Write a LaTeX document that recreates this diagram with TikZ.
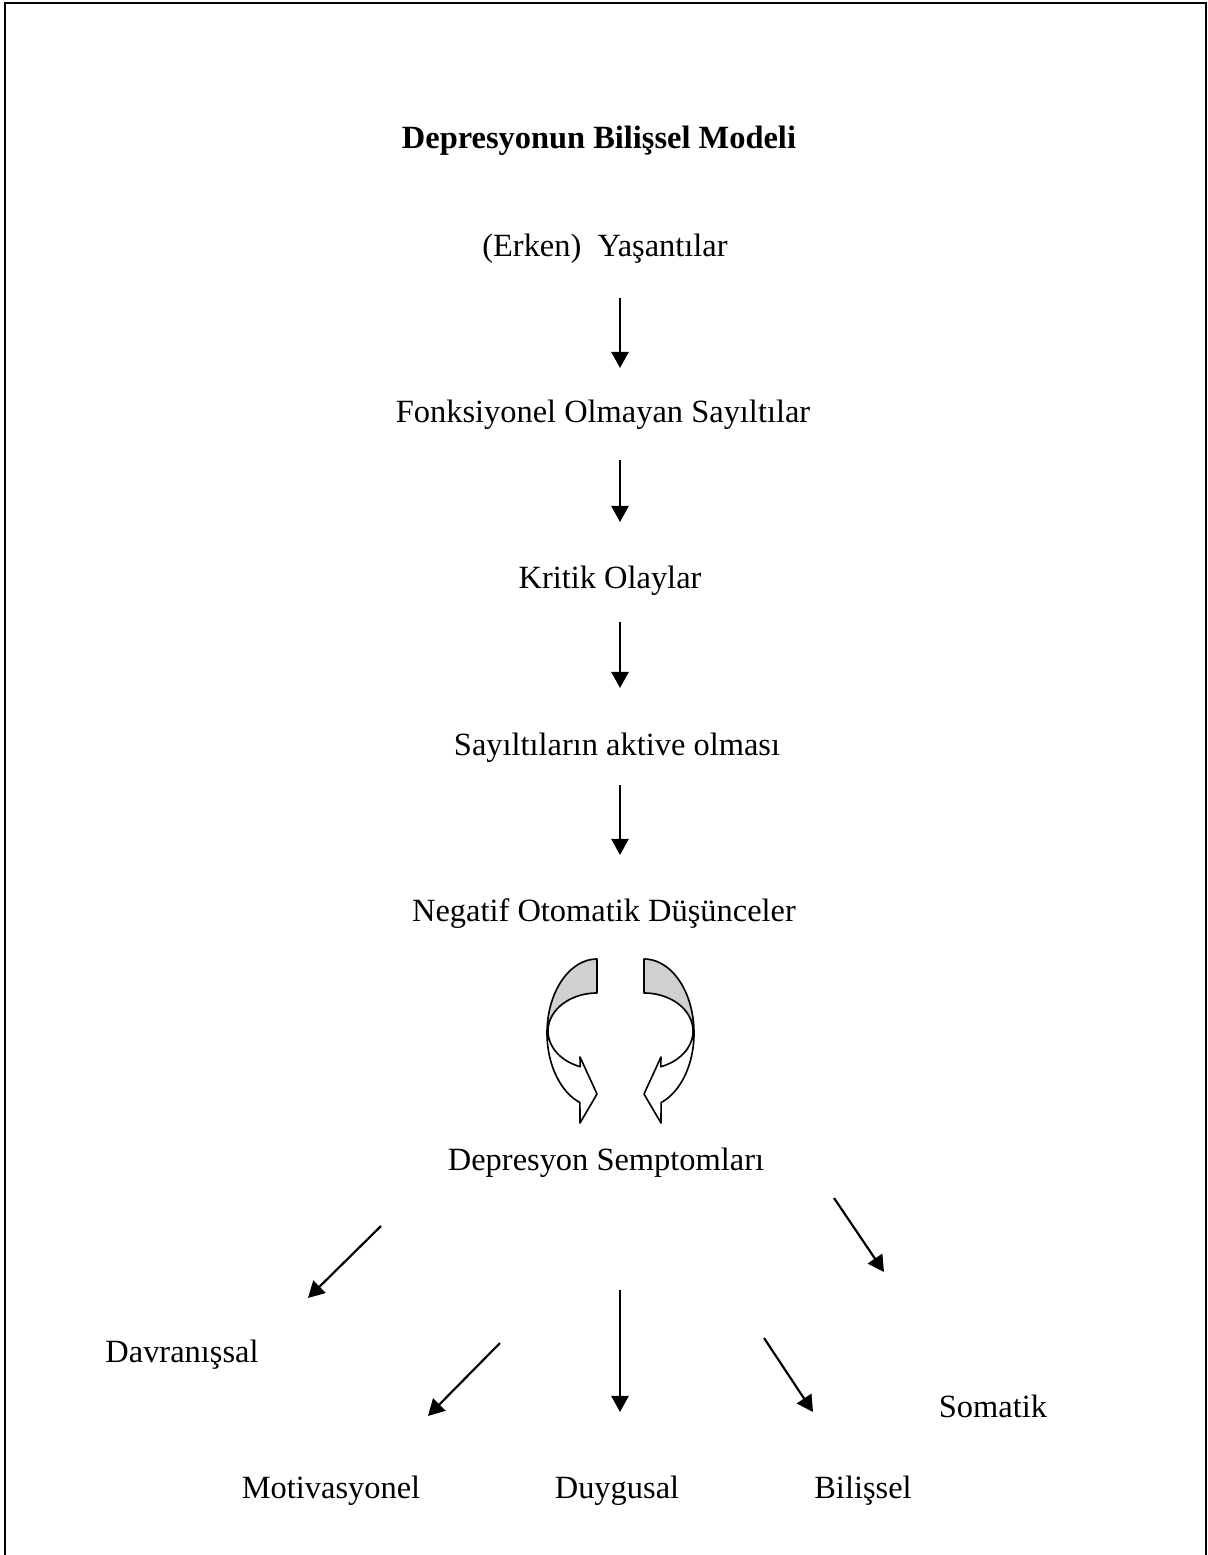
\documentclass[tikz,border=0pt]{standalone}
\usepackage{fontspec}
\setmainfont{Liberation Serif}
\usepackage{xcolor}
\usepackage{tikz}
\usetikzlibrary{positioning,arrows.meta,calc}
\definecolor{ink}{HTML}{000000}
\definecolor{shade}{HTML}{D0D0D0}
\tikzset{
  every node/.style={font=\fontsize{12}{14}\selectfont},
  etiket/.style={
    inner sep=0pt, anchor=base,
    text height=8pt, text depth=2.5pt
  },
  ok/.style={
    -{Triangle[length=6pt,width=6.4pt]},
    line width=0.8pt, draw=ink
  },
  kivrim/.style={
    line width=0.6pt, draw=ink, line join=round
  },
  cerceve/.style={
    line width=0.8pt, draw=ink
  },
}

\begin{document}
\begin{tikzpicture}[x=0.37pt,y=-0.37pt]
  \useasboundingbox (0,0) rectangle (1208,1555);
  \draw[cerceve] (5,1556) -- (5,3) -- (1206,3) -- (1206,1556);

  \node[etiket, font=\fontsize{12}{14}\selectfont\bfseries] (baslik) at (599,149) {Depresyonun Bilişsel Modeli};
  \node[etiket] (yasanti) at (605,257) {(Erken)\ \ Yaşantılar};
  \node[etiket] (sayilti) at (603,422) {Fonksiyonel Olmayan Sayıltılar};
  \node[etiket] (kritik) at (610,588) {Kritik Olaylar};
  \node[etiket] (aktive) at (617,755) {Sayıltıların aktive olması};
  \node[etiket] (negatif) at (604,921) {Negatif Otomatik Düşünceler};
  \node[etiket] (semptom) at (606,1170) {Depresyon Semptomları};
  \node[etiket] (davranis) at (182,1362) {Davranışsal};
  \node[etiket] (somatik) at (993,1417) {Somatik};
  \node[etiket] (motiv) at (331,1498) {Motivasyonel};
  \node[etiket] (duygu) at (617,1498) {Duygusal};
  \node[etiket] (bilis) at (863,1498) {Bilişsel};

  \draw[ok] ([shift={(15,41)}]yasanti.base) -- ([shift={(17,-54)}]sayilti.base);
  \draw[ok] ([shift={(17,38)}]sayilti.base) -- ([shift={(10,-66)}]kritik.base);
  \draw[ok] ([shift={(10,34)}]kritik.base) -- ([shift={(3,-67)}]aktive.base);
  \draw[ok] ([shift={(3,30)}]aktive.base) -- ([shift={(16,-66)}]negatif.base);

  \foreach \s in {1,-1} {
    \begin{scope}[shift={(620.5,0)}, xscale=\s]
      \draw[kivrim, fill=shade]
        plot[domain=270:180, samples=40] ({-23.5+50*cos(\x)},{1033+74*sin(\x)})
        -- plot[domain=180:270, samples=40] ({-23.5+49*cos(\x)},{1031+38*sin(\x)})
        -- cycle;
      \draw[kivrim, fill=white]
        plot[domain=180:110, samples=40] ({-23.5+50*cos(\x)},{1033+74*sin(\x)})
        -- (-40.5,1123) -- (-23.5,1094) -- (-40.5,1057)
        -- plot[domain=110:180, samples=40] ({-23.5+49*cos(\x)},{1031+38*sin(\x)})
        -- cycle;
    \end{scope}
  }

  \draw[ok] ([shift={(-225,56)}]semptom.base) -- ([shift={(126,-64)}]davranis.base);
  \draw[ok] ([shift={(228,28)}]semptom.base) -- ([shift={(-109,-145)}]somatik.base);
  \draw[ok] ([shift={(-106,173)}]semptom.base) -- ([shift={(97,-82)}]motiv.base);
  \draw[ok] ([shift={(14,120)}]semptom.base) -- ([shift={(3,-86)}]duygu.base);
  \draw[ok] ([shift={(158,168)}]semptom.base) -- ([shift={(-50,-86)}]bilis.base);
\end{tikzpicture}
\end{document}
